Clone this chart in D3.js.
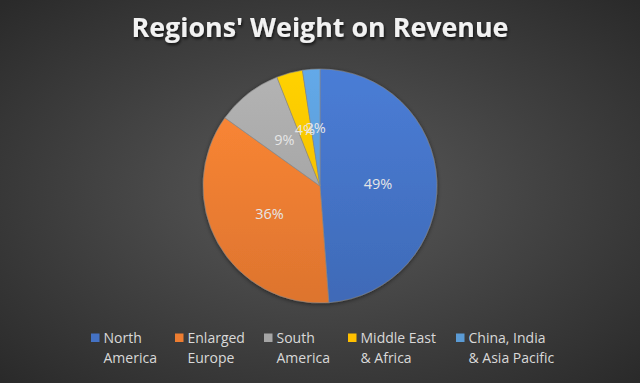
<!DOCTYPE html>
<html><head><meta charset="utf-8">
<script src="https://cdn.jsdelivr.net/npm/d3@7"></script>
<style>html,body{margin:0;padding:0;background:#3a3a3a;}svg{display:block;}</style>
</head><body>
<script>
const title = "Regions' Weight on Revenue";
const categories = ["North America","Enlarged Europe","South America","Middle East & Africa","China, India & Asia Pacific"];
const legendLines = [["North","America"],["Enlarged","Europe"],["South","America"],["Middle East","& Africa"],["China, India","& Asia Pacific"]];
const values = [48.8, 36.1, 9.1, 3.6, 2.4];
const colors = ["#4472C4","#ED7D31","#A5A5A5","#FFC000","#5B9BD5"];

const W = 640, H = 383;
const svg = d3.select("body").append("svg").attr("width", W).attr("height", H);
const defs = svg.append("defs");
const bg = defs.append("radialGradient").attr("id","bg").attr("cx","50%").attr("cy","50%").attr("r","70%");
bg.append("stop").attr("offset","0%").attr("stop-color","#5a5a5a");
bg.append("stop").attr("offset","100%").attr("stop-color","#2a2a2a");
svg.append("rect").attr("width",W).attr("height",H).attr("fill","url(#bg)");

colors.forEach((c,i)=>{
  const g = defs.append("linearGradient").attr("id","g"+i).attr("gradientUnits","userSpaceOnUse")
    .attr("x1",0).attr("y1",-117).attr("x2",0).attr("y2",117);
  g.append("stop").attr("offset","0%").attr("stop-color",d3.color(c).brighter(0.25));
  g.append("stop").attr("offset","100%").attr("stop-color",d3.color(c).darker(0.2));
});
const sh = defs.append("filter").attr("id","ts").attr("x","-10%").attr("y","-30%").attr("width","120%").attr("height","160%");
sh.append("feDropShadow").attr("dx",1).attr("dy",2).attr("stdDeviation",1.5).attr("flood-color","#000").attr("flood-opacity",0.7);
const ps = defs.append("filter").attr("id","ps").attr("x","-20%").attr("y","-20%").attr("width","140%").attr("height","140%");
ps.append("feDropShadow").attr("dx",0).attr("dy",1).attr("stdDeviation",2).attr("flood-color","#000").attr("flood-opacity",0.5);

// Title
const t = svg.append("text").attr("x",W/2).attr("y",37).attr("text-anchor","middle")
  .attr("font-family","Open Sans").attr("font-weight","bold").attr("font-size",24)
  .attr("fill","#f2f2f2").attr("filter","url(#ts)").text(title);
const tw = t.node().getComputedTextLength();
t.attr("font-size", 24*377/tw);

// Pie
const R = 117, cx = 320, cy = 186;
const pie = d3.pie().sort(null).value(d=>d);
const arcs = pie(values);
const arc = d3.arc().innerRadius(0).outerRadius(R);
const labelArc = d3.arc().innerRadius(58).outerRadius(58);
const total = d3.sum(values);
const g = svg.append("g").attr("transform",`translate(${cx},${cy})`);
g.append("g").attr("filter","url(#ps)").selectAll("path").data(arcs).join("path")
  .attr("d",arc).attr("fill",(d,i)=>`url(#g${i})`).attr("stroke","#8a8a8a").attr("stroke-width",0.6);
g.selectAll("text").data(arcs).join("text")
  .attr("transform",d=>`translate(${labelArc.centroid(d)})`)
  .attr("text-anchor","middle").attr("dy","0.35em")
  .attr("font-family","Open Sans").attr("font-size",14.5).attr("fill","#e6e6e6")
  .text(d=>Math.round(d.data/total*100)+"%");

// Legend
const lx = [91, 175, 264, 348, 456];
const lg = svg.append("g");
categories.forEach((c,i)=>{
  const it = lg.append("g").attr("transform",`translate(${lx[i]},0)`);
  it.append("rect").attr("x",0).attr("y",333.5).attr("width",8.5).attr("height",8.5).attr("fill",colors[i]);
  legendLines[i].forEach((ln,j)=>{
    it.append("text").attr("x",12.5).attr("y",343 + j*19.5)
      .attr("font-family","Open Sans").attr("font-size",14).attr("fill","#d9d9d9").text(ln);
  });
});
</script>
</body></html>
